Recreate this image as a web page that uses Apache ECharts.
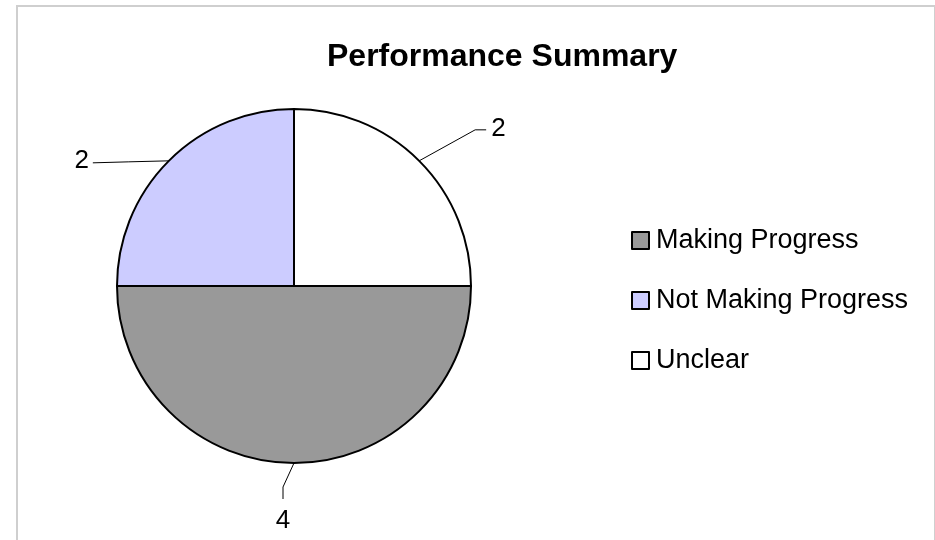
<!DOCTYPE html>
<html>
<head>
<meta charset="utf-8">
<title>Performance Summary</title>
<script src="https://cdn.jsdelivr.net/npm/echarts@6/dist/echarts.min.js"></script>
<style>
    html, body {
        margin: 0;
        padding: 0;
        background: #fff;
    }
    .frame {
        position: absolute;
        left: 16px;
        top: 5px;
        width: 916px;
        height: 560px;
        border: 2px solid #cfcfcf;
        border-bottom: none;
    }
    .charts {
        position: absolute;
        left: 0;
        top: 0;
        width: 935px;
        height: 540px;
    }
</style>
</head>
<body>
<div class="frame"></div>
<div class="charts" id="chart"></div>
<script>
    const categories = ['Making Progress', 'Not Making Progress', 'Unclear']
    const values = [4, 2, 2]
    const colors = ['#999999', '#ccccff', '#ffffff']

    // leader line shape per slice, relative to the slice edge point
    const leader = [
        { mid: [-11, 24], end: [-11, 36], label: [-11, 58], align: 'center' },
        { mid: [-40, 1], end: [-76, 2], label: [-80, 0], align: 'right' },
        { mid: [56, -31], end: [67, -31], label: [72, -32], align: 'left' }
    ]

    const chart = echarts.init(document.getElementById('chart'))

    chart.setOption({
        animation: false,
        textStyle: {
            fontFamily: '"Liberation Sans", Arial, sans-serif',
            color: '#000'
        },
        title: {
            text: 'Performance Summary',
            left: 322,
            top: 36,
            textStyle: {
                fontSize: 32,
                fontWeight: 'bold',
                color: '#000',
                fontFamily: '"Liberation Sans", Arial, sans-serif'
            }
        },
        legend: {
            orient: 'vertical',
            left: 626,
            top: 222,
            icon: 'rect',
            itemWidth: 17,
            itemHeight: 17,
            itemGap: 33,
            data: categories,
            itemStyle: {
                borderColor: '#000',
                borderWidth: 2
            },
            textStyle: {
                fontSize: 27,
                color: '#000',
                padding: [0, 0, 0, 2]
            }
        },
        series: [{
            type: 'pie',
            center: [294, 286],
            radius: 177,
            startAngle: 0,
            clockwise: true,
            avoidLabelOverlap: false,
            color: colors,
            itemStyle: {
                borderColor: '#000',
                borderWidth: 2
            },
            emphasis: { disabled: true },
            label: {
                show: true,
                position: 'outside',
                formatter: '{c}',
                fontSize: 26,
                color: '#000'
            },
            labelLine: {
                show: true,
                length: 10,
                length2: 10,
                lineStyle: {
                    color: '#000',
                    width: 1
                }
            },
            labelLayout (params) {
                const p = params.labelLinePoints[0]
                const l = leader[params.dataIndex]
                return {
                    x: p[0] + l.label[0],
                    y: p[1] + l.label[1],
                    align: l.align,
                    verticalAlign: 'middle',
                    labelLinePoints: [
                        [p[0], p[1]],
                        [p[0] + l.mid[0], p[1] + l.mid[1]],
                        [p[0] + l.end[0], p[1] + l.end[1]]
                    ]
                }
            },
            data: categories.map((name, i) => ({ name, value: values[i] }))
        }]
    })
</script>
</body>
</html>
